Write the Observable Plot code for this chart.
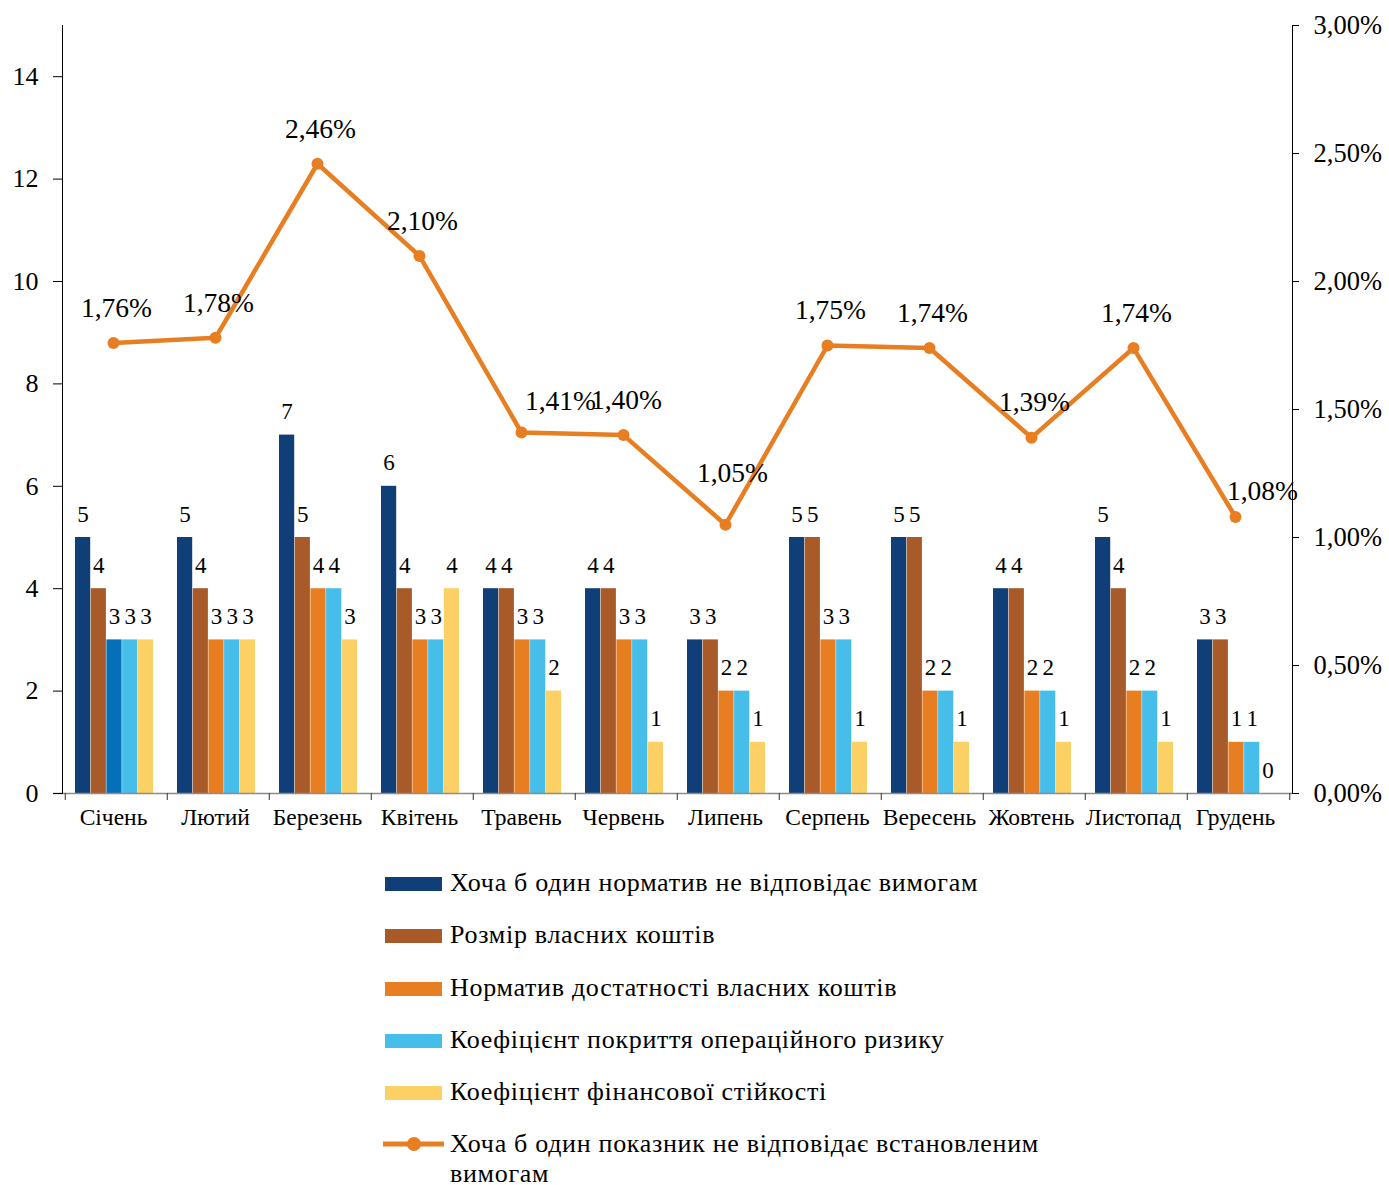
<!DOCTYPE html>
<html><head><meta charset="utf-8">
<script src="https://cdn.jsdelivr.net/npm/d3@7"></script>
<script src="https://cdn.jsdelivr.net/npm/@observablehq/plot@0.6"></script>
<style>
body{margin:0;background:#fff;font-family:"Liberation Serif","Times New Roman",serif;color:#000;}
#chart svg{display:block;}
#legend{margin-left:383px;margin-top:23px;}
.row{display:flex;align-items:flex-start;margin-bottom:22.3px;font-size:26px;line-height:30px;letter-spacing:0.7px;}
.sw{width:57px;height:14px;margin-top:9px;margin-left:2px;margin-right:8px;flex:none;}
.lsw{width:61px;height:30px;margin-right:6px;flex:none;}
.txt{width:620px;}
</style></head><body>
<div id="chart"></div>
<div id="legend"></div>
<script>
// ---- data ----
const months = ["Січень","Лютий","Березень","Квітень","Травень","Червень","Липень","Серпень","Вересень","Жовтень","Листопад","Грудень"];
const seriesNames = [
  "Хоча б один норматив не відповідає вимогам",
  "Розмір власних коштів",
  "Норматив достатності власних коштів",
  "Коефіцієнт покриття операційного ризику",
  "Коефіцієнт фінансової стійкості"
];
const anyNormative   = [5,5,7,6,4,4,3,5,5,4,5,3];
const ownFunds       = [4,4,5,4,4,4,3,5,5,4,4,3];
const adequacy       = [3,3,4,3,3,3,2,3,2,2,2,1];
const opRisk         = [3,3,4,3,3,3,2,3,2,2,2,1];
const finStability   = [3,3,3,4,2,1,1,1,1,1,1,0];
const lineName = "Хоча б один показник не відповідає встановленим вимогам";
const linePct = [1.76,1.78,2.46,2.10,1.41,1.40,1.05,1.75,1.74,1.39,1.74,1.08];
const countTicks = [0,2,4,6,8,10,12,14];
const pctTicks = [0,0.5,1,1.5,2,2.5,3];

// ---- styles ----
const colors = ["#0F3F76","#A85A28","#E87E22","#47BDEA","#FDD065"];
const lineColor = "#E87E22";
const januaryAdequacyColor = "#0570B8";
const font = "Liberation Serif, Times New Roman, serif";

const seriesValues = [anyNormative, ownFunds, adequacy, opRisk, finStability];
const rows = [];
seriesValues.forEach((vals, si) => vals.forEach((v, mi) => rows.push({month: months[mi], mi, si, series: seriesNames[si], value: v})));
const lineRows = months.map((m, i) => ({month: m, pct: linePct[i]}));
const PCT_TO_Y = 5; // 3% ↔ 15 on the left scale
const fmtPct = p => p.toFixed(2).replace(".", ",") + "%";

const W = 1389, H = 845, ml = 62, mr = 97, mt = 25, mb = 52;
const bw = (W - ml - mr) / 12;
const padL = 10, barW = 15.7;

const marks = [];
seriesNames.forEach((name, i) => {
  const data = rows.filter(d => d.si === i);
  marks.push(Plot.barY(data, {
    x: "month", y: "value",
    fill: d => (d.si === 2 && d.mi === 0) ? januaryAdequacyColor : colors[i],
    insetLeft: padL + i * barW, insetRight: bw - padL - (i + 1) * barW
  }));
  marks.push(Plot.text(data, {
    x: "month", y: "value", text: d => String(d.value),
    dx: padL + (i + 0.5) * barW - bw / 2, dy: -16, lineAnchor: "bottom",
    fontSize: 23, fill: "#000"
  }));
});
// bottom axis line and boundary ticks
marks.push(Plot.ruleY([0], {stroke: "#8c8c8c", strokeWidth: 1.5, insetLeft: -9}));
marks.push(Plot.ruleX(months, {x: d => d, y1: 0, y2: 0, insetBottom: -7, dx: -bw / 2, stroke: "#333"}));
marks.push(Plot.ruleX([months[months.length - 1]], {x: d => d, y1: 0, y2: 0, insetBottom: -7, dx: bw / 2, stroke: "#333"}));
// side axes
marks.push(Plot.frame({anchor: "left", stroke: "#000"}));
marks.push(Plot.frame({anchor: "right", stroke: "#000"}));
marks.push(Plot.axisY({ticks: countTicks, tickSize: 9, tickPadding: 15, fontSize: 26, label: null, stroke: "#000"}));
marks.push(Plot.axisY({anchor: "right", ticks: pctTicks.map(p => p * PCT_TO_Y), tickFormat: v => fmtPct(v / PCT_TO_Y), tickSize: 6, tickPadding: 15, fontSize: 26.5, label: null}));
marks.push(Plot.axisX({tickSize: 0, tickPadding: 15, fontSize: 23.5, label: null, dx: -3}));
// line
marks.push(Plot.line(lineRows, {x: "month", y: d => d.pct * PCT_TO_Y, stroke: lineColor, strokeWidth: 4.5, dx: -3}));
marks.push(Plot.dot(lineRows, {x: "month", y: d => d.pct * PCT_TO_Y, r: 6, fill: lineColor, dx: -3}));
const nudged = {"Травень": [36, -31], "Липень": [4, -52], "Грудень": [24, -26]};
marks.push(Plot.text(lineRows.filter(d => !(d.month in nudged)), {x: "month", y: d => d.pct * PCT_TO_Y, text: d => fmtPct(d.pct), dy: -35, fontSize: 27.5, fill: "#000"}));
for (const [m, [ddx, ddy]] of Object.entries(nudged)) {
  marks.push(Plot.text(lineRows.filter(d => d.month === m), {x: "month", y: d => d.pct * PCT_TO_Y, text: d => fmtPct(d.pct), dx: ddx, dy: ddy, fontSize: 27.5, fill: "#000"}));
}

const chart = Plot.plot({
  width: W, height: H,
  marginLeft: ml, marginRight: mr, marginTop: mt, marginBottom: mb,
  style: {fontFamily: font, color: "#000", background: "#fff", overflow: "visible"},
  x: {type: "band", domain: months, padding: 0, label: null},
  y: {domain: [0, 15], label: null},
  color: {type: "identity"},
  marks
});
document.getElementById("chart").appendChild(chart);

// legend
const legend = document.getElementById("legend");
seriesNames.forEach((name, i) => {
  const r = document.createElement("div"); r.className = "row";
  const sw = document.createElement("div"); sw.className = "sw"; sw.style.background = colors[i];
  const t = document.createElement("div"); t.className = "txt"; t.textContent = name;
  r.appendChild(sw); r.appendChild(t); legend.appendChild(r);
});
{
  const r = document.createElement("div"); r.className = "row";
  r.innerHTML = `<svg class="lsw" width="61" height="30"><line x1="0" x2="61" y1="15" y2="15" stroke="${lineColor}" stroke-width="5"/><circle cx="31" cy="15" r="7" fill="${lineColor}"/></svg>`;
  const t = document.createElement("div"); t.className = "txt"; t.textContent = lineName;
  r.appendChild(t); legend.appendChild(r);
}
</script>
</body></html>
